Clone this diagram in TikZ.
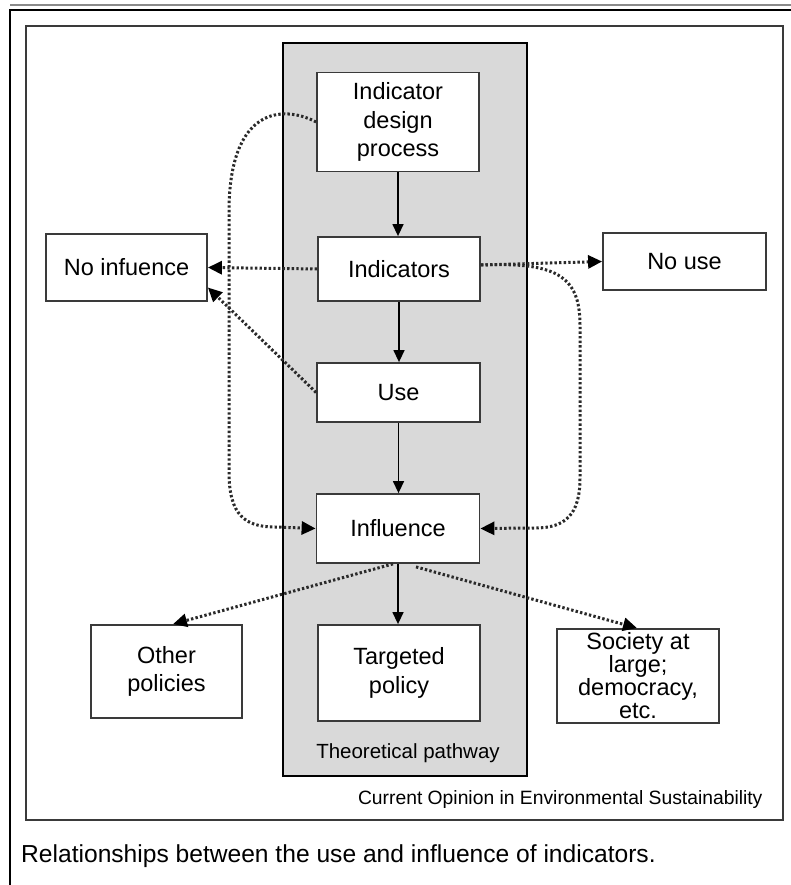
\documentclass[tikz,border=0pt]{standalone}
\usepackage{fontspec}
\setmainfont{Liberation Sans}
\usetikzlibrary{arrows.meta}

\definecolor{framegray}{HTML}{8A8A8A}
\definecolor{boxedge}{HTML}{3A3A3A}
\definecolor{panelfill}{HTML}{D9D9D9}
\definecolor{dotink}{HTML}{2A2A2A}

\begin{document}
\begin{tikzpicture}[x=1pt,y=-1pt,
  boxnode/.style={draw=boxedge, line width=1.8pt, fill=white, inner sep=0pt,
    align=center, font=\fontsize{23.5}{28.5}\selectfont},
  flow/.style={line width=1.4pt, -{Triangle[length=12pt,width=11pt]}},
  dotlink/.style={draw=dotink, line width=3pt, dash pattern=on 2.4pt off 2.2pt,
    -{Triangle[length=14pt,width=13pt,color=black]}},
]
\useasboundingbox (0,0) rectangle (791,885);

% page rules and frames
\draw[framegray, line width=2pt] (10,4.7) -- (791,4.7);
\draw[black, line width=2.4pt] (10,885) -- (10,10) -- (791,10);
\draw[boxedge, line width=1.5pt] (26,26) rectangle (783,820);

% theoretical pathway panel
\draw[black, line width=2pt, fill=panelfill] (283,43) rectangle (527,776);
\node[font=\fontsize{20.5}{24}\selectfont] (pathlbl) at (408,753) {Theoretical pathway};

% boxes
\node[boxnode, minimum width=162pt, minimum height=99pt] (idp) at (398,122) {Indicator\\design\\process};
\node[boxnode, minimum width=162pt, minimum height=64pt] (ind) at (399,269) {Indicators};
\node[boxnode, minimum width=161pt, minimum height=67pt] (noinf) at (126.5,267.5) {No infuence};
\node[boxnode, minimum width=163pt, minimum height=57pt] (nouse) at (684.5,261.5) {No use};
\node[boxnode, minimum width=163pt, minimum height=59pt] (use) at (398.5,392.5) {Use};
\node[boxnode, minimum width=163pt, minimum height=69pt] (infl) at (398,528.5) {Influence};
\node[boxnode, minimum width=151pt, minimum height=93pt] (other) at (166.5,671.5) {Other\\policies};
\node[boxnode, minimum width=162pt, minimum height=96pt] (targ) at (399,673) {Targeted\\policy};
\node[boxnode, minimum width=162pt, minimum height=94pt, font=\fontsize{23.5}{23}\selectfont] (soc) at (638,676) {Society at\\large;\\democracy,\\etc.};

% main pathway
\draw[flow] (idp.south) -- (idp.south |- ind.north);
\draw[flow] (ind.south) -- (ind.south |- use.north);
\draw[flow] (use.south) -- (use.south |- infl.north);
\draw[flow] (infl.south) -- (infl.south |- targ.north);

% dotted side links
\draw[dotlink] (ind.west) -- (noinf.east);
\draw[dotlink] (use.west) -- ([yshift=-20pt]noinf.east);
\draw[dotlink] ([yshift=4pt]ind.east) -- (nouse.west);
\draw[dotlink] ([yshift=4pt]ind.east) .. controls (555,262) and (580,275) .. (580,325)
  -- (580,478) .. controls (580,515) and (565,528) .. (535,528) -- (infl.east);
\draw[dotlink] (idp.west) .. controls (290,108) and (232,100) .. (229,205)
  -- (229,472) .. controls (229,515) and (245,527) .. (275,527) -- (infl.west);
\draw[dotlink] ([xshift=-5pt]infl.south) -- ([xshift=6.5pt]other.north);
\draw[dotlink] ([xshift=18pt,yshift=-3pt]infl.south) -- ([xshift=-1pt]soc.north);

% credits and caption
\node[anchor=base east, font=\fontsize{19.3}{22}\selectfont] (credit) at (766,804) {Current Opinion in Environmental Sustainability};
\node[anchor=base west, font=\fontsize{24.6}{28}\selectfont, inner sep=0pt] (caption) at (21,862) {Relationships between the use and influence of indicators.};
\end{tikzpicture}
\end{document}
